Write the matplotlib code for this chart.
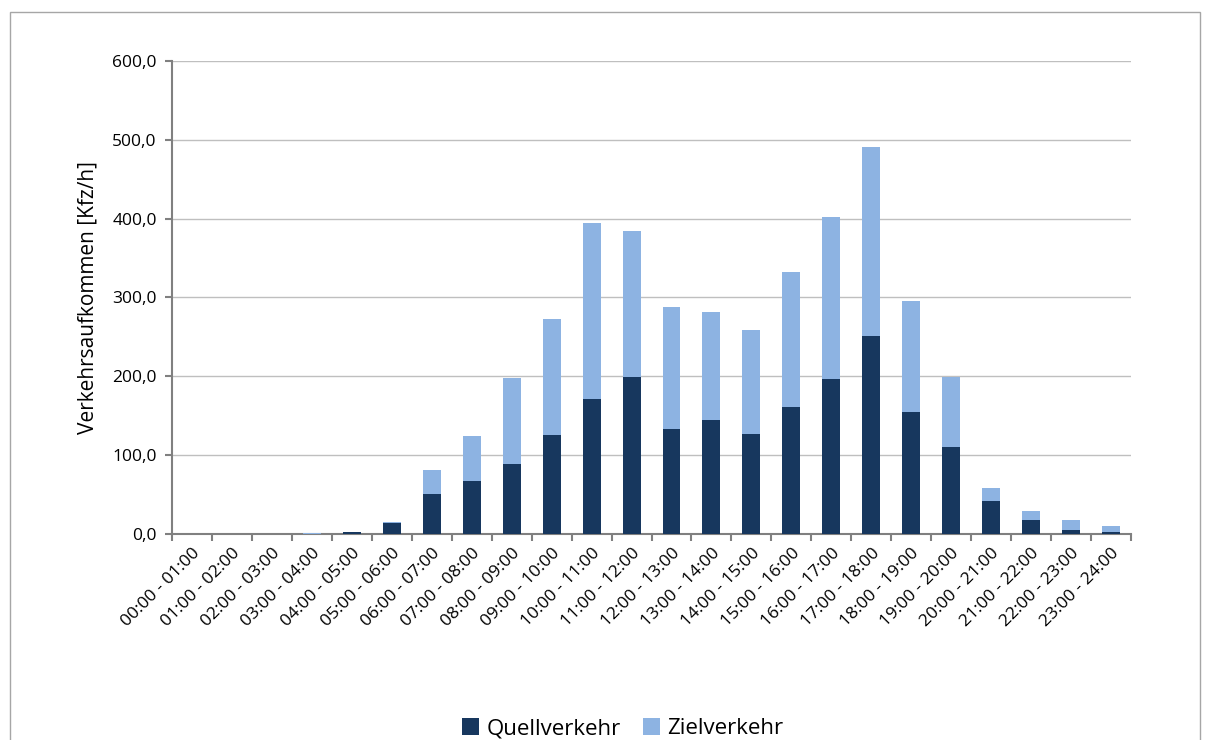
import numpy as np
import matplotlib.pyplot as plt
from matplotlib.patches import Rectangle

hours = ["00:00 - 01:00", "01:00 - 02:00", "02:00 - 03:00", "03:00 - 04:00",
         "04:00 - 05:00", "05:00 - 06:00", "06:00 - 07:00", "07:00 - 08:00",
         "08:00 - 09:00", "09:00 - 10:00", "10:00 - 11:00", "11:00 - 12:00",
         "12:00 - 13:00", "13:00 - 14:00", "14:00 - 15:00", "15:00 - 16:00",
         "16:00 - 17:00", "17:00 - 18:00", "18:00 - 19:00", "19:00 - 20:00",
         "20:00 - 21:00", "21:00 - 22:00", "22:00 - 23:00", "23:00 - 24:00"]
quell = [0.3, 0.2, 0.1, 0.6, 3, 14, 51, 67, 89, 126, 172, 199,
         133, 145, 127, 161, 197, 251, 155, 110, 42, 18, 5, 3]
ziel = [0.2, 0.1, 0.1, 0.4, 0.5, 2, 30, 58, 109, 147, 222, 185,
        155, 137, 132, 171, 205, 240, 141, 89, 16, 11, 13, 7]

plt.rcParams['font.family'] = ['Open Sans', 'DejaVu Sans']

fig = plt.figure(figsize=(12.11, 7.4), dpi=100)
ax = fig.add_axes([0.142, 0.278, 0.792, 0.640])

# outer chart frame
fig.patches.append(Rectangle((10 / 1211, -0.01), 1190 / 1211, 1 - 12 / 740 + 0.01,
                             transform=fig.transFigure, fill=False,
                             edgecolor='#a6a6a6', linewidth=1.0))

x = np.arange(len(hours))
ax.bar(x, quell, width=0.45, color='#17375E', label='Quellverkehr', zorder=3)
ax.bar(x, ziel, width=0.45, bottom=quell, color='#8DB3E2', label='Zielverkehr', zorder=3)

ax.set_xlim(-0.5, len(hours) - 0.5)
ax.set_ylim(0, 600)
ax.set_yticks(np.arange(0, 601, 100))
ax.set_yticklabels([f"{v:.1f}".replace('.', ',') for v in np.arange(0, 601, 100)], fontsize=12.5)
ax.yaxis.grid(True, color='#bfbfbf', linewidth=1, zorder=0)

ax.set_xticks(x)
ax.set_xticklabels(hours, rotation=45, ha='right', rotation_mode='anchor', fontsize=12.5)
ax.tick_params(axis='x', length=0, pad=8)
ax.set_xticks(np.arange(-0.5, len(hours)), minor=True)
ax.tick_params(axis='x', which='minor', length=5, color='#808080', width=1.5)
ax.tick_params(axis='y', length=5, color='#808080', width=1.5, pad=6)

for side in ['top', 'right']:
    ax.spines[side].set_visible(False)
for side in ['left', 'bottom']:
    ax.spines[side].set_color('#808080')
    ax.spines[side].set_linewidth(1.5)

ax.set_ylabel("Verkehrsaufkommen [Kfz/h]", fontsize=15, labelpad=10)

fig.legend(loc='lower center', bbox_to_anchor=(0.514, -0.026), ncol=2, frameon=False,
           fontsize=16, handlelength=0.8, handleheight=0.8, handletextpad=0.3,
           columnspacing=1.0)

fig.savefig("out.png", dpi=100)
